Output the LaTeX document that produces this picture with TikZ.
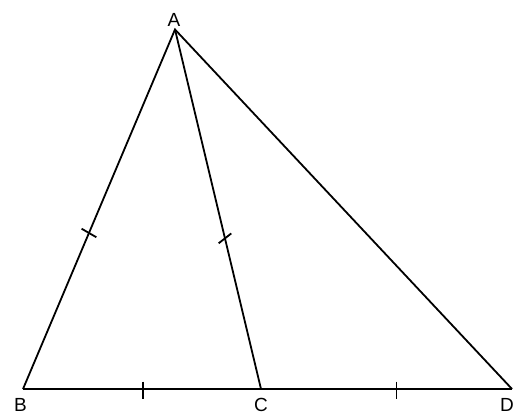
\documentclass[tikz,border=0pt]{standalone}
\usepackage{fontspec}
\setmainfont{Liberation Sans}
\usetikzlibrary{calc}
\begin{document}
\begin{tikzpicture}[x=1pt,y=-1pt,
  edge/.style={line width=1.8pt},
  tickmark/.style={line width=1.8pt},
  lbl/.style={font=\fontsize{19}{21}\selectfont, inner sep=0pt}]
\useasboundingbox (0,0) rectangle (521,419);
\coordinate (A) at (175,29.5);
\coordinate (B) at (23,389);
\coordinate (C) at (261,389);
\coordinate (D) at (512,389);
\node[lbl] (lA) at (174,20) {A};
\node[lbl] (lB) at (20.5,405) {B};
\node[lbl] (lC) at (261,405) {C};
\node[lbl] (lD) at (507,405) {D};
\draw[edge, line join=miter] (B) -- (A) -- (D);
\draw[edge] (B) -- (D);
\draw[edge] (A) -- (C);
\coordinate (t1) at ($(A)!0.566!(B)$);
\coordinate (t2) at ($(A)!0.581!(C)$);
\coordinate (t3) at ($(B)!0.505!(C)$);
\coordinate (t4) at ($(C)!0.54!(D)$);
\draw[tickmark] ($(t1)+(30:8.5)$) -- ($(t1)+(210:8.5)$);
\draw[tickmark] ($(t2)+(-38:8)$) -- ($(t2)+(142:8)$);
\draw[tickmark] ($(t3)+(0,-7.5)$) -- ($(t3)+(0,9.5)$);
\draw[tickmark] ($(t4)+(0,-7.5)$) -- ($(t4)+(0,9.5)$);
\end{tikzpicture}
\end{document}
